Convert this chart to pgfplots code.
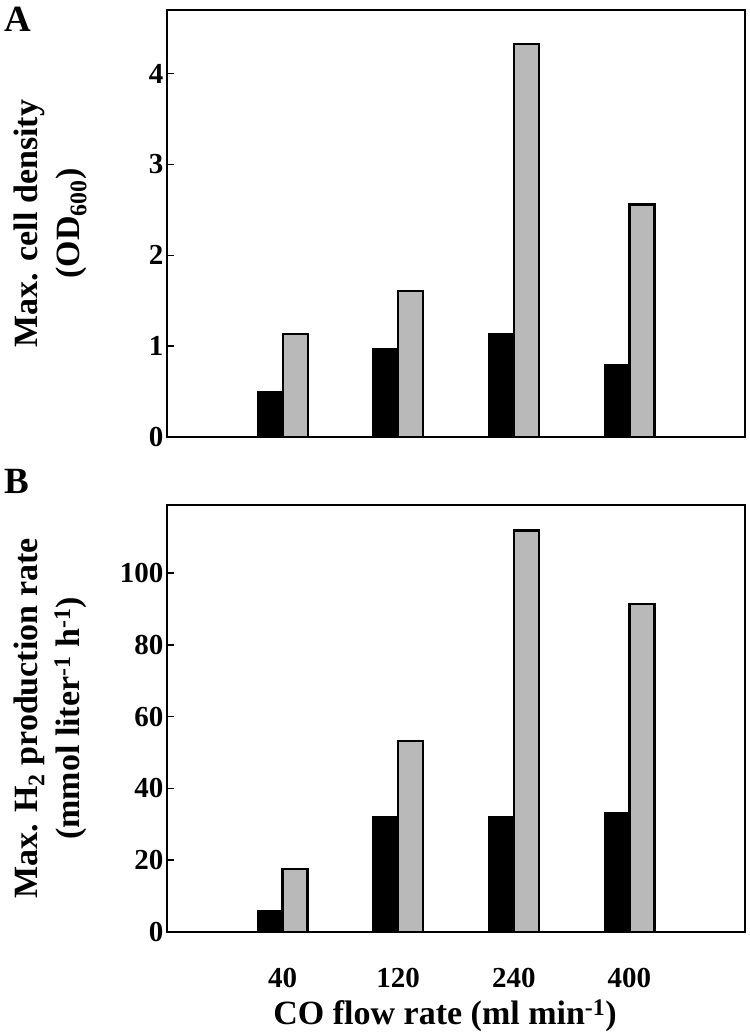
\documentclass[border=0pt]{standalone}
\usepackage{fontspec}
\setmainfont{Liberation Serif}
\usepackage{pgfplots}
\pgfplotsset{compat=1.18}
\definecolor{bargray}{RGB}{185,185,185}
\pgfplotsset{
  common/.style={
    scale only axis, width=578pt, height=427pt,
    xmin=-1, xmax=4, ymin=0,
    axis line style={line width=2pt},
    ybar=0pt, bar width=25pt,
    xtick={0,1,2,3},
    x tick style={draw=none},
    y tick style={line width=1.5pt, black},
    tick align=inside,
    ytick pos=left,
    major tick length=7pt,
    /pgf/number format/assume math mode=true,
    tick label style={font=\fontsize{29}{29}\selectfont\bfseries},
    label style={font=\fontsize{34}{42}\selectfont\bfseries, align=center},
    ylabel style={at={(axis description cs:-0.2024,0.5)}, anchor=center},
  },
  blackbar/.style={fill=black, draw=black, line width=1.8pt},
  graybar/.style={fill=bargray, draw=black, line width=2.2pt},
}
\begin{document}
\begin{tikzpicture}
\useasboundingbox (0,0) rectangle (750pt,-1034pt);
\begin{axis}[common,
  at={(167pt,-437pt)}, anchor=south west,
  ymax=4.7, ytick={0,1,2,3,4},
  xticklabels={},
  ylabel={Max. cell density\\(OD\textsubscript{600})},
]
\addplot[blackbar] coordinates {(0,0.50) (1,0.97) (2,1.13) (3,0.79)};
\addplot[graybar] coordinates {(0,1.13) (1,1.61) (2,4.33) (3,2.56)};
\end{axis}
\begin{axis}[common,
  at={(167pt,-932pt)}, anchor=south west,
  ymax=119, ytick={0,20,40,60,80,100},
  xticklabels={40,120,240,400},
  xticklabel style={anchor=center, yshift=-46pt},
  ylabel={Max. H\textsubscript{2} production rate\\(mmol liter\textsuperscript{-1} h\textsuperscript{-1})},
  xlabel={CO flow rate (ml min\textsuperscript{-1})},
  xlabel style={at={(axis description cs:0.481,-0.197)}, anchor=center},
]
\addplot[blackbar] coordinates {(0,5.8) (1,32.1) (2,32.1) (3,33.2)};
\addplot[graybar] coordinates {(0,17.6) (1,53.3) (2,111.9) (3,91.5)};
\end{axis}
\node[font=\fontsize{37}{37}\selectfont\bfseries, anchor=west] at (1pt,-19pt) {A};
\node[font=\fontsize{37}{37}\selectfont\bfseries, anchor=west] at (1pt,-481pt) {B};
\end{tikzpicture}
\end{document}
